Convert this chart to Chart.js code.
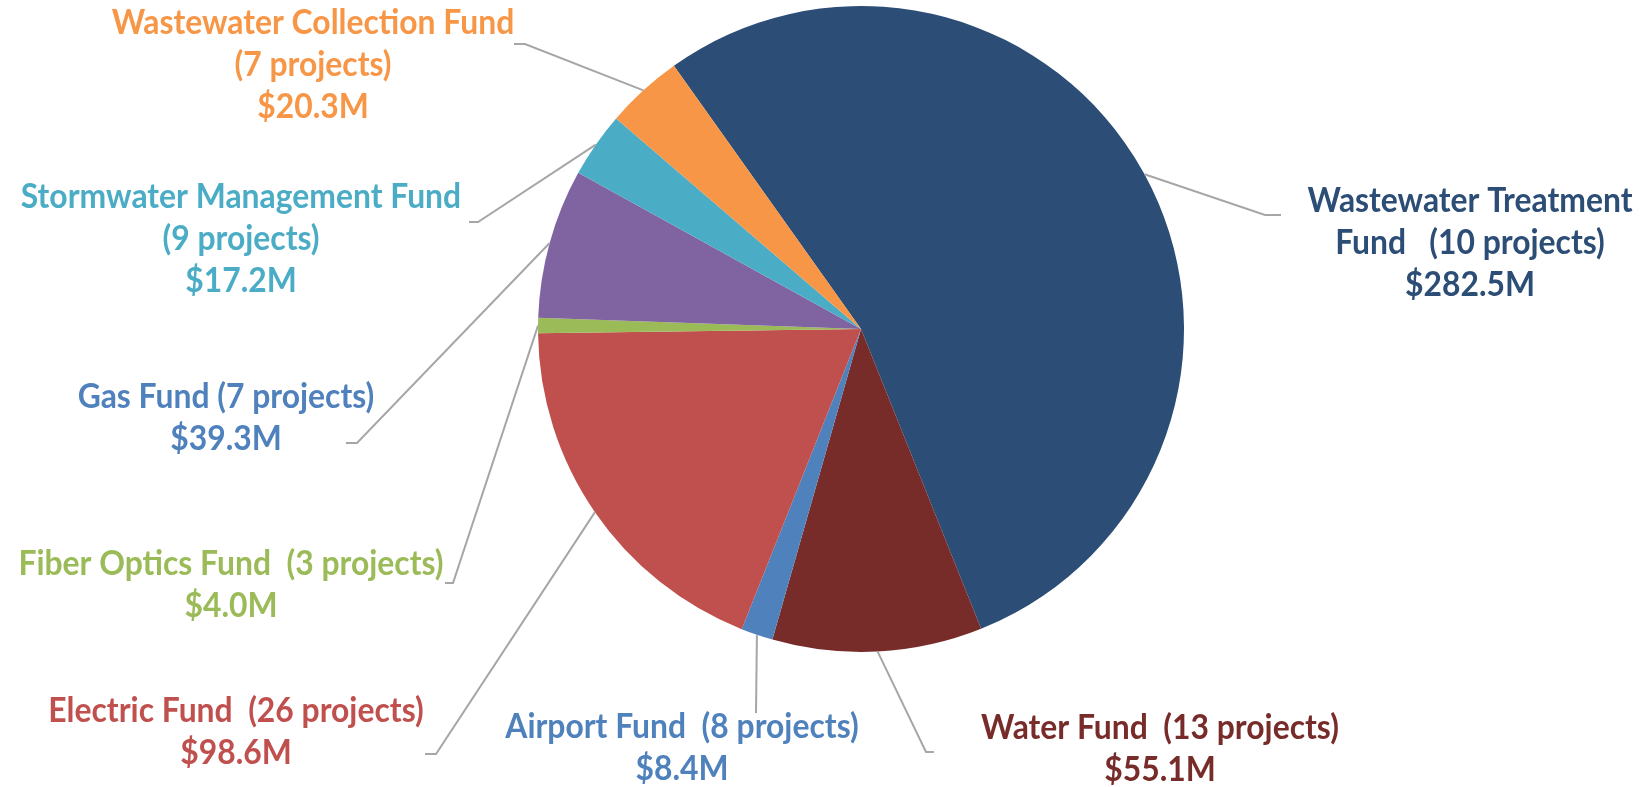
<!DOCTYPE html>
<html>
<head>
<meta charset="utf-8">
<script src="https://cdn.jsdelivr.net/npm/chart.js@4"></script>
<style>
	html, body { margin: 0; padding: 0; background: #ffffff; }
	#chart-funds { display: block; }
</style>
</head>
<body>
<canvas id="chart-funds" width="1646" height="787"></canvas>
<script>
// Chart data
const FUND_NAMES = [
	"Wastewater Treatment Fund",
	"Water Fund",
	"Airport Fund",
	"Electric Fund",
	"Fiber Optics Fund",
	"Gas Fund",
	"Stormwater Management Fund",
	"Wastewater Collection Fund",
];
const PROJECT_COUNTS = [10, 13, 8, 26, 3, 7, 9, 7];
const AMOUNTS = [282.5, 55.1, 8.4, 98.6, 4.0, 39.3, 17.2, 20.3];

// Styles
const SLICE_COLORS = ["#2C4D75", "#772C2A", "#4F81BD", "#C0504D", "#9BBB59", "#8064A2", "#4BACC6", "#F79646"];
const LABEL_COLORS = ["#2C4D75", "#772C2A", "#4F81BD", "#C0504D", "#9BBB59", "#4F81BD", "#4BACC6", "#F79646"];
const LEADER_COLOR = "#A6A6A6";
const FONT = "bold 35px Lato, 'Open Sans', sans-serif";
const LINE_HEIGHT = 42;
const TEXT_SCALE_X = 0.91;

// Label placement (text centre of first line) and leader line bends
// wordBreak: words of the name kept on line 1, nameBreak: put "(n projects)" on its own line
const LABEL_LAYOUT = [
	{ x: 1470, y: 201, gap: "   ", wordBreak: 2, nameBreak: false, bend: [1265, 215], end: [1281, 215] },
	{ x: 1160, y: 728, gap: "  ", wordBreak: 0, nameBreak: false, bend: [926, 752], end: [934, 752] },
	{ x: 682, y: 727, gap: "  ", wordBreak: 0, nameBreak: false, bend: null, end: [756, 713] },
	{ x: 236, y: 711, gap: "  ", wordBreak: 0, nameBreak: false, bend: [436, 754], end: [425, 754] },
	{ x: 231, y: 564, gap: "  ", wordBreak: 0, nameBreak: false, bend: [453, 583], end: [445, 583] },
	{ x: 226, y: 397, gap: " ", wordBreak: 0, nameBreak: false, bend: [357, 443], end: [346, 443] },
	{ x: 241, y: 197, gap: " ", wordBreak: 0, nameBreak: true, bend: [478, 222], end: [469, 222] },
	{ x: 313, y: 23, gap: " ", wordBreak: 0, nameBreak: true, bend: [525, 44], end: [514, 44] },
];

const buildLines = (i) => {
	const lay = LABEL_LAYOUT[i];
	const projects = "(" + PROJECT_COUNTS[i] + " projects)";
	const amount = "$" + AMOUNTS[i].toFixed(1) + "M";
	const name = FUND_NAMES[i];
	if (lay.wordBreak) {
		const words = name.split(" ");
		return [words.slice(0, lay.wordBreak).join(" "), words.slice(lay.wordBreak).join(" ") + lay.gap + projects, amount];
	}
	if (lay.nameBreak) {
		return [name, projects, amount];
	}
	return [name + lay.gap + projects, amount];
};

//------------------------------------------------------------
// Leader lines and labels
//------------------------------------------------------------
const fundLabels = {
	id: "fundLabels",
	afterDatasetsDraw(chart) {
		const ctx = chart.ctx;
		const meta = chart.getDatasetMeta(0);
		meta.data.forEach((arc, i) => {
			const { x, y, startAngle, endAngle, outerRadius } = arc.getProps(["x", "y", "startAngle", "endAngle", "outerRadius"], true);
			const mid = (startAngle + endAngle) / 2;
			const px = x + Math.cos(mid) * outerRadius;
			const py = y + Math.sin(mid) * outerRadius;
			const lay = LABEL_LAYOUT[i];

			ctx.save();
			ctx.strokeStyle = LEADER_COLOR;
			ctx.lineWidth = 2;
			ctx.beginPath();
			ctx.moveTo(px, py);
			if (lay.bend) {
				ctx.lineTo(lay.bend[0], lay.bend[1]);
			}
			ctx.lineTo(lay.end[0], lay.end[1]);
			ctx.stroke();

			ctx.fillStyle = LABEL_COLORS[i];
			ctx.font = FONT;
			ctx.textAlign = "center";
			ctx.textBaseline = "middle";
			buildLines(i).forEach((line, k) => {
				ctx.save();
				ctx.translate(lay.x, lay.y + k * LINE_HEIGHT);
				ctx.scale(TEXT_SCALE_X, 1);
				ctx.fillText(line, 0, 0);
				ctx.restore();
			});
			ctx.restore();
		});
	},
};

const CHART_DATA = {
	labels: FUND_NAMES,
	datasets: [
		{
			data: AMOUNTS,
			backgroundColor: SLICE_COLORS,
			borderWidth: 0,
		},
	],
};

const CHART_CONFIG = {
	type: "pie",
	data: CHART_DATA,
	options: {
		responsive: false,
		animation: false,
		rotation: -35.4,
		layout: {
			padding: { top: 6, bottom: 135, left: 538, right: 462 },
		},
		plugins: {
			legend: { display: false },
			title: { display: false },
			tooltip: { enabled: false },
		},
	},
	plugins: [fundLabels],
};

new Chart(document.getElementById("chart-funds"), CHART_CONFIG);
</script>
</body>
</html>
